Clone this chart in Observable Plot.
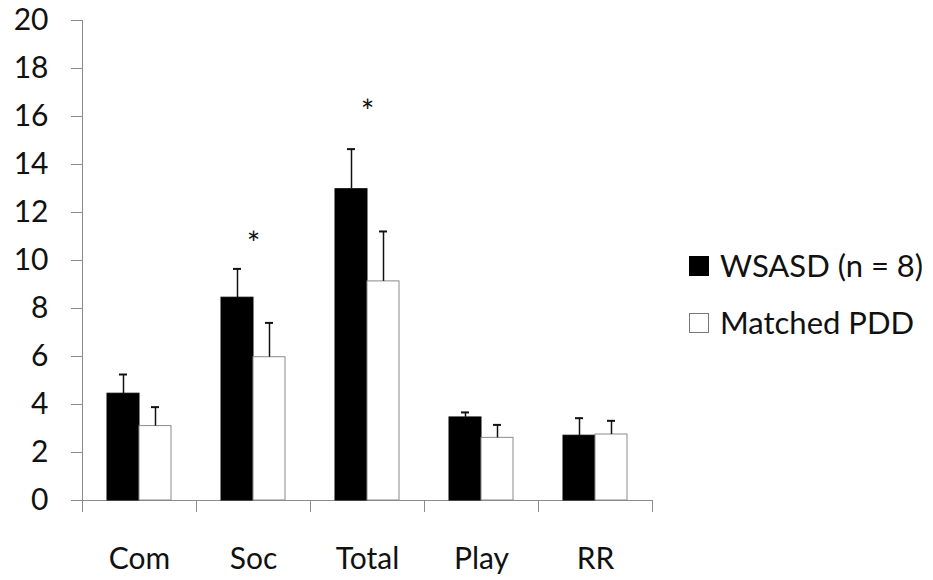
<!DOCTYPE html>
<html><head><meta charset="utf-8">
<script src="https://cdn.jsdelivr.net/npm/d3@7"></script>
<script src="https://cdn.jsdelivr.net/npm/@observablehq/plot@0.6"></script>
<style>
body{margin:0;background:#fff;font-family:Lato,"Open Sans",sans-serif}
#wrap{position:relative;width:933px;height:580px}
#legend{position:absolute;left:689px;top:237px;font-size:31px;color:#111;line-height:1}
.row{display:flex;align-items:center;height:57px;white-space:nowrap}
.sw{display:inline-block;width:20px;height:20px;margin-right:11px;box-sizing:border-box}
</style></head><body>
<div id="wrap"><div id="legend"></div></div>
<script>
const categories = ["Com", "Soc", "Total", "Play", "RR"];
const seriesNames = ["WSASD (n = 8)", "Matched PDD"];
const wsasdMean = [4.45, 8.45, 12.97, 3.46, 2.7];
const wsasdErr  = [0.8, 1.2, 1.67, 0.21, 0.73];
const pddMean   = [3.1, 5.97, 9.13, 2.61, 2.75];
const pddErr    = [0.79, 1.43, 2.08, 0.54, 0.57];
const starCategories = ["Soc", "Total"];
const starY = [10.65, 16.15];
const yTicks = [0, 2, 4, 6, 8, 10, 12, 14, 16, 18, 20];
const seriesFill = ["#000000", "#ffffff"];
const seriesStroke = ["#000000", "#8a8a8a"];

const rows = [];
categories.forEach((c, i) => {
  rows.push({cat: c, series: seriesNames[0], mean: wsasdMean[i], err: wsasdErr[i]});
  rows.push({cat: c, series: seriesNames[1], mean: pddMean[i], err: pddErr[i]});
});
const stars = starCategories.map((c, i) => ({cat: c, y: starY[i]}));

const axisGray = "#8c8c8c";
const chart = Plot.plot({
  width: 933, height: 580,
  marginLeft: 80, marginRight: 280, marginTop: 20, marginBottom: 80,
  style: {fontFamily: "Lato, 'Open Sans', sans-serif", fontSize: "30px", color: "#111", background: "#fff"},
  fx: {domain: categories, padding: 0, label: null},
  x: {domain: seriesNames, paddingInner: 0, paddingOuter: 0.765, axis: null},
  y: {domain: [0, 20], label: null},
  marks: [
    Plot.frame({anchor: "left", facetAnchor: "left", stroke: axisGray}),
    Plot.axisY({ticks: yTicks, tickSize: 11, tickPadding: 23, stroke: axisGray, fill: "#111", label: null}),
    Plot.ruleY([0], {stroke: axisGray}),
    Plot.frame({anchor: "left", insetTop: 480, insetBottom: -11, stroke: axisGray}),
    Plot.frame({anchor: "right", insetTop: 480, insetBottom: -11, stroke: axisGray}),
    ...seriesNames.map((s, k) => Plot.barY(rows, {
      filter: d => d.series === s,
      fx: "cat", x: "series", y: "mean",
      fill: seriesFill[k], stroke: seriesStroke[k], strokeWidth: 1
    })),
    Plot.ruleX(rows, {fx: "cat", x: "series", y1: "mean", y2: d => d.mean + d.err, stroke: "#111", strokeWidth: 1.5}),
    Plot.tickY(rows, {fx: "cat", x: "series", y: d => d.mean + d.err, stroke: "#111", strokeWidth: 2, insetLeft: 12, insetRight: 12}),
    Plot.text(stars, {fx: "cat", y: "y", text: () => "*", fontSize: 32, fill: "#111"}),
    Plot.axisFx({anchor: "bottom", tickSize: 0, tickPadding: 47, fontSize: 30, fill: "#111", label: null})
  ]
});
document.getElementById("wrap").prepend(chart);

const legend = document.getElementById("legend");
seriesNames.forEach((s, k) => {
  const row = document.createElement("div");
  row.className = "row";
  const sw = document.createElement("span");
  sw.className = "sw";
  sw.style.background = seriesFill[k];
  sw.style.border = "1.5px solid " + (k === 0 ? "#000" : "#777");
  row.appendChild(sw);
  row.appendChild(document.createTextNode(s));
  legend.appendChild(row);
});
</script>
</body></html>
